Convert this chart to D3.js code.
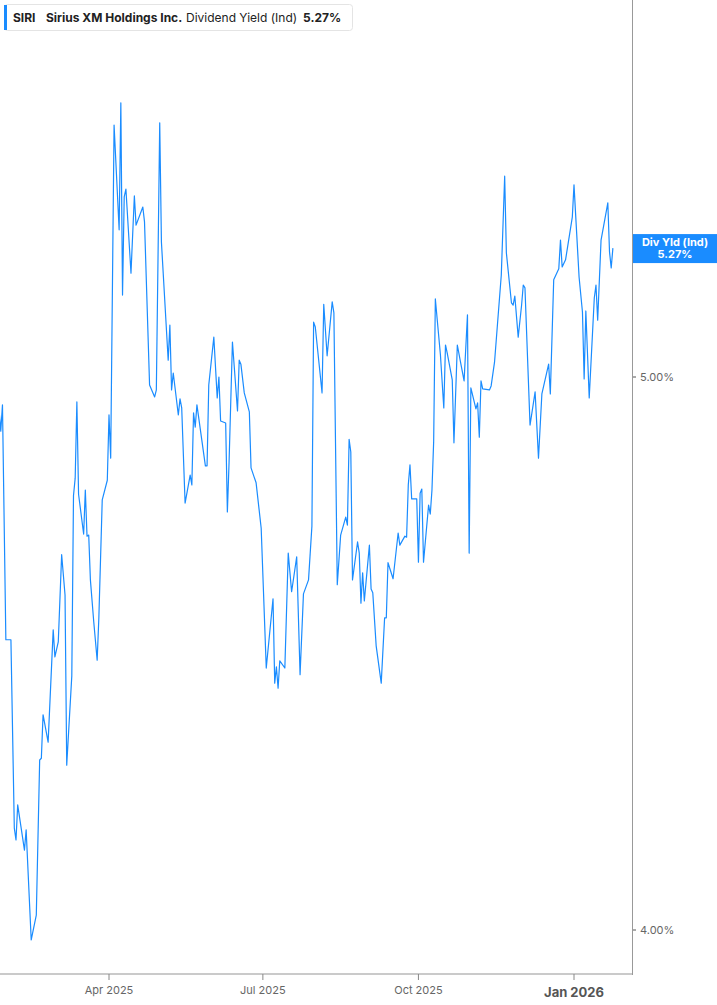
<!DOCTYPE html>
<html>
<head>
<meta charset="utf-8">
<script src="https://cdn.jsdelivr.net/npm/d3@7"></script>
<style>
  body { margin: 0; background: #fff; }
  text { font-family: Inter, "Open Sans", "Liberation Sans", sans-serif; }
</style>
</head>
<body>
<div id="chart"></div>
<script>
// values
var dates = [
  "2025-01-26","2025-01-27","2025-01-28","2025-01-30","2025-02-02","2025-02-04","2025-02-05","2025-02-06","2025-02-10","2025-02-11",
  "2025-02-14","2025-02-17","2025-02-19","2025-02-20","2025-02-21","2025-02-24","2025-02-27","2025-02-28","2025-03-02","2025-03-04",
  "2025-03-06","2025-03-07","2025-03-10","2025-03-11","2025-03-12","2025-03-13","2025-03-14","2025-03-17","2025-03-18","2025-03-19",
  "2025-03-20","2025-03-21","2025-03-23","2025-03-25","2025-03-26","2025-03-28","2025-03-31","2025-04-01","2025-04-02","2025-04-04",
  "2025-04-07","2025-04-08","2025-04-09","2025-04-10","2025-04-11","2025-04-14","2025-04-16","2025-04-17","2025-04-21","2025-04-22",
  "2025-04-25","2025-04-28","2025-04-29","2025-05-01","2025-05-02","2025-05-06","2025-05-07","2025-05-08","2025-05-09","2025-05-12",
  "2025-05-13","2025-05-14","2025-05-16","2025-05-19","2025-05-20","2025-05-21","2025-05-22","2025-05-23","2025-05-28","2025-05-29",
  "2025-05-30","2025-06-02","2025-06-04","2025-06-05","2025-06-06","2025-06-09","2025-06-10","2025-06-11","2025-06-13","2025-06-16",
  "2025-06-17","2025-06-18","2025-06-20","2025-06-23","2025-06-24","2025-06-27","2025-06-30","2025-07-03","2025-07-07","2025-07-08",
  "2025-07-09","2025-07-10","2025-07-11","2025-07-14","2025-07-16","2025-07-18","2025-07-21","2025-07-23","2025-07-25","2025-07-28",
  "2025-07-30","2025-07-31","2025-08-01","2025-08-05","2025-08-06","2025-08-08","2025-08-11","2025-08-12","2025-08-14","2025-08-16",
  "2025-08-19","2025-08-20","2025-08-21","2025-08-22","2025-08-23","2025-08-26","2025-08-27","2025-08-28","2025-08-29","2025-08-30",
  "2025-09-02","2025-09-03","2025-09-04","2025-09-06","2025-09-09","2025-09-11","2025-09-12","2025-09-13","2025-09-16","2025-09-19",
  "2025-09-20","2025-09-23","2025-09-24","2025-09-25","2025-09-26","2025-09-27","2025-09-30","2025-10-01","2025-10-02","2025-10-03",
  "2025-10-04","2025-10-07","2025-10-08","2025-10-09","2025-10-10","2025-10-11","2025-10-14","2025-10-16","2025-10-17","2025-10-18",
  "2025-10-21","2025-10-22","2025-10-24","2025-10-26","2025-10-28","2025-10-30","2025-10-31","2025-11-01","2025-11-04","2025-11-05",
  "2025-11-06","2025-11-07","2025-11-08","2025-11-12","2025-11-13","2025-11-15","2025-11-19","2025-11-21","2025-11-22","2025-11-25",
  "2025-11-26","2025-11-27","2025-11-29","2025-12-01","2025-12-02","2025-12-03","2025-12-06","2025-12-09","2025-12-11","2025-12-13",
  "2025-12-17","2025-12-18","2025-12-20","2025-12-23","2025-12-24","2025-12-25","2025-12-27","2025-12-31","2026-01-01","2026-01-04",
  "2026-01-06","2026-01-07","2026-01-08","2026-01-10","2026-01-13","2026-01-14","2026-01-15","2026-01-17","2026-01-21","2026-01-22",
  "2026-01-23","2026-01-24"
];

var yields = [
  4.932,4.892,4.944,4.497,4.497,4.168,4.148,4.207,4.131,4.165,
  3.984,4.024,4.284,4.287,4.363,4.315,4.515,4.466,4.493,4.654,
  4.579,4.275,4.432,4.766,4.800,4.950,4.769,4.693,4.777,4.689,
  4.691,4.607,4.529,4.460,4.537,4.758,4.796,4.924,4.839,5.535,
  5.306,5.585,5.168,5.377,5.394,5.214,5.379,5.316,5.355,5.323,
  4.984,4.960,4.974,5.540,5.280,5.034,5.106,4.974,5.008,4.924,
  4.956,4.938,4.752,4.806,4.787,4.928,4.900,4.944,4.824,4.824,
  4.984,5.081,4.958,5.000,4.912,4.908,4.735,4.830,5.071,4.932,
  5.034,5.026,4.968,4.930,4.820,4.791,4.704,4.446,4.572,4.419,
  4.448,4.410,4.459,4.446,4.657,4.585,4.650,4.434,4.581,4.607,
  4.708,5.112,5.102,4.968,5.149,5.043,5.154,5.131,4.598,4.691,
  4.725,4.710,4.876,4.851,4.607,4.678,4.657,4.564,4.620,4.568,
  4.672,4.590,4.583,4.486,4.419,4.537,4.537,4.639,4.609,4.695,
  4.672,4.689,4.687,4.787,4.826,4.760,4.760,4.640,4.771,4.779,
  4.640,4.748,4.731,4.777,4.871,5.160,5.045,4.938,5.065,5.049,
  4.994,4.869,5.065,5.028,4.992,5.127,4.657,4.978,4.936,4.948,
  4.880,4.992,4.976,4.974,4.982,5.030,5.210,5.422,5.257,5.152,
  5.147,5.166,5.081,5.147,5.189,5.183,4.904,4.970,4.839,4.966,
  5.026,4.966,5.200,5.223,5.284,5.227,5.242,5.333,5.403,5.206,
  5.133,4.996,5.135,4.958,5.162,5.189,5.116,5.284,5.364,5.259,
  5.225,5.267
];

var xTicks = ["2025-04-01", "2025-07-01", "2025-10-01", "2026-01-01"];
var xTickLabels = ["Apr 2025", "Jul 2025", "Oct 2025", "Jan 2026"];
var yTicks = [4, 5];
var legendParts = ["SIRI", "Sirius XM Holdings Inc.", "Dividend Yield (Ind)", "5.27%"];
var lastLabel = ["Div Yld (Ind)", "5.27%"];

(function() {
    var width = 717,
        height = 1005,
        plotRight = 632,
        plotBottom = 974,
        blue = "#1a8cff",
        parse = d3.utcParse("%Y-%m-%d");

    var data = dates.map(function(d, i) {
        return { date: parse(d), value: yields[i] };
    });

    // scales anchored on the tick positions of the reference
    var x = d3.scaleUtc()
        .domain([parse(xTicks[0]), parse(xTicks[3])])
        .range([109, 574]);

    var y = d3.scaleLog()
        .domain([4, 5])
        .range([930, 377]);

    var svg = d3.select("#chart")
        .append("svg")
        .attr("width", width)
        .attr("height", height);

    svg.append("defs")
        .append("clipPath")
        .attr("id", "plotClip")
        .append("rect")
        .attr("x", 0)
        .attr("y", 0)
        .attr("width", plotRight)
        .attr("height", plotBottom);

    // line
    var line = d3.line()
        .x(function(d) { return x(d.date); })
        .y(function(d) { return y(d.value); });

    svg.append("path")
        .datum(data)
        .attr("clip-path", "url(#plotClip)")
        .attr("fill", "none")
        .attr("stroke", blue)
        .attr("stroke-width", 1.2)
        .attr("stroke-linejoin", "round")
        .attr("d", line);

    // bottom axis
    svg.append("line")
        .attr("x1", 0)
        .attr("x2", plotRight)
        .attr("y1", plotBottom)
        .attr("y2", plotBottom)
        .attr("stroke", "#b8b8b8")
        .attr("stroke-width", 1.5);

    var xg = svg.selectAll(".xTick")
        .data(xTicks)
        .enter()
        .append("g")
        .attr("class", "xTick")
        .attr("transform", function(d) { return "translate(" + x(parse(d)) + "," + plotBottom + ")"; });

    xg.append("line")
        .attr("y1", 0)
        .attr("y2", 6)
        .attr("stroke", "#888");

    xg.append("text")
        .attr("text-anchor", "middle")
        .attr("y", function(d, i) { return i === 3 ? 23 : 20; })
        .attr("font-size", function(d, i) { return i === 3 ? "13px" : "11px"; })
        .attr("font-weight", function(d, i) { return i === 3 ? 700 : 400; })
        .attr("fill", function(d, i) { return i === 3 ? "#555" : "#666"; })
        .text(function(d, i) { return xTickLabels[i]; });

    // right axis
    svg.append("line")
        .attr("x1", plotRight + 0.5)
        .attr("x2", plotRight + 0.5)
        .attr("y1", 0)
        .attr("y2", plotBottom + 1)
        .attr("stroke", "#999");

    var yg = svg.selectAll(".yTick")
        .data(yTicks)
        .enter()
        .append("g")
        .attr("class", "yTick")
        .attr("transform", function(d) { return "translate(" + plotRight + "," + y(d) + ")"; });

    yg.append("line")
        .attr("x1", 1)
        .attr("x2", 4)
        .attr("stroke", "#555");

    yg.append("text")
        .attr("x", 8)
        .attr("dy", "0.35em")
        .attr("font-size", "11px")
        .attr("fill", "#666")
        .text(function(d) { return d3.format(".2f")(d) + "%"; });

    // last value flag
    var lastY = y(yields[yields.length - 1]);
    svg.append("rect")
        .attr("x", plotRight + 1)
        .attr("y", lastY - 14)
        .attr("width", width - plotRight - 1)
        .attr("height", 29)
        .attr("fill", blue);

    svg.selectAll(".lastLabel")
        .data(lastLabel)
        .enter()
        .append("text")
        .attr("class", "lastLabel")
        .attr("x", 675)
        .attr("y", function(d, i) { return lastY - 2 + i * 12; })
        .attr("text-anchor", "middle")
        .attr("font-size", "11px")
        .attr("font-weight", 700)
        .attr("fill", "#fff")
        .text(function(d) { return d; });

    // legend
    var legend = svg.append("g");
    legend.append("rect")
        .attr("x", 4.5)
        .attr("y", 4.5)
        .attr("width", 348)
        .attr("height", 26)
        .attr("rx", 3)
        .attr("fill", "#fff")
        .attr("stroke", "#e4e4e4");

    legend.append("rect")
        .attr("x", 4)
        .attr("y", 5)
        .attr("width", 3)
        .attr("height", 25)
        .attr("fill", blue);

    var legendX = [13, 46, 186, 303],
        legendBold = [true, true, false, true];

    legend.selectAll(".legendText")
        .data(legendParts)
        .enter()
        .append("text")
        .attr("class", "legendText")
        .attr("x", function(d, i) { return legendX[i]; })
        .attr("y", 22)
        .attr("font-size", "12px")
        .attr("font-weight", function(d, i) { return legendBold[i] ? 700 : 400; })
        .attr("fill", "#222")
        .text(function(d) { return d; });
})();
</script>
</body>
</html>
